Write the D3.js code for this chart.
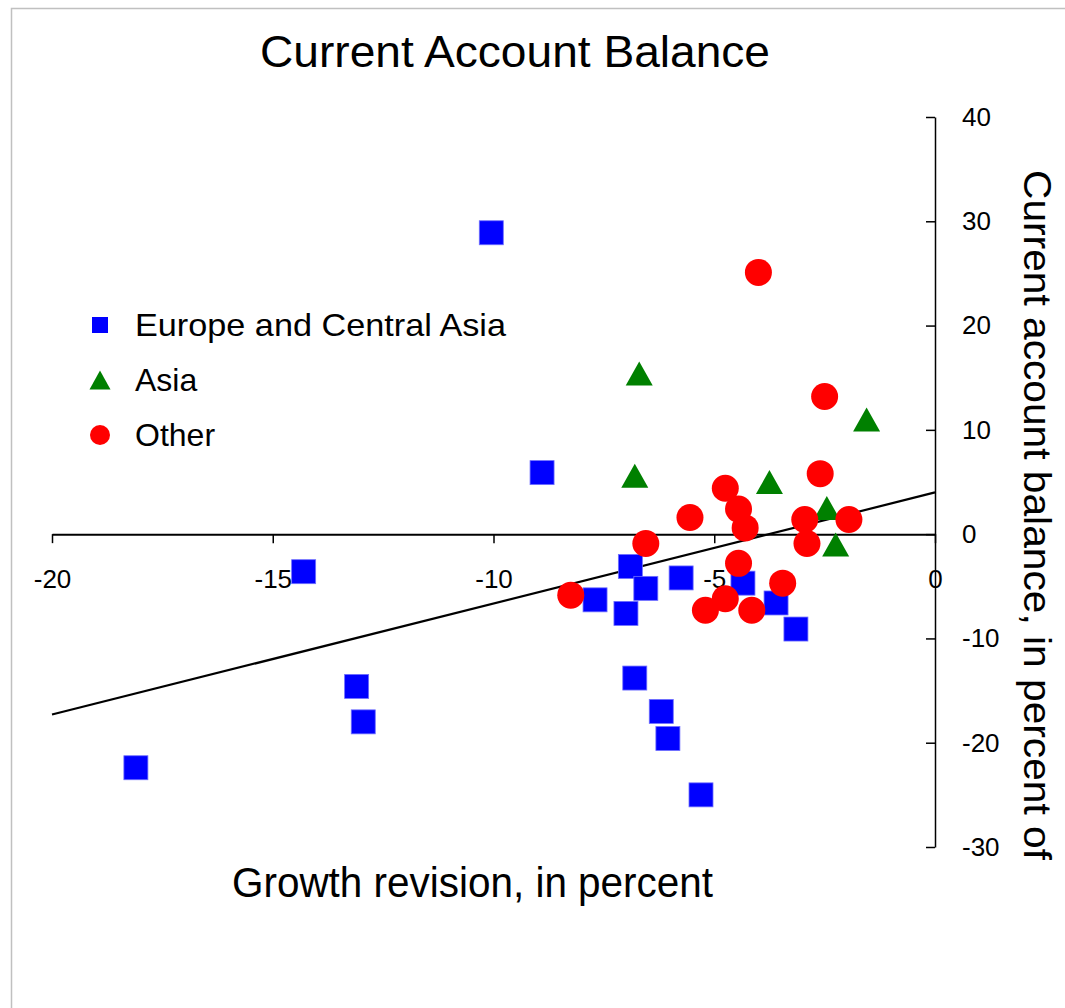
<!DOCTYPE html>
<html>
<head>
<meta charset="utf-8">
<script src="https://cdn.jsdelivr.net/npm/d3@7"></script>
<style>
  html, body { margin: 0; padding: 0; background: #fff; }
  svg { display: block; font-family: "Liberation Sans", Arial, sans-serif; }
</style>
</head>
<body>
<svg id="chart" width="1065" height="1008"></svg>
<script>
// Growth revision (x) vs current account balance (y), by region
const europeX = [-10.05, -8.9, -14.3, -13.1, -12.95, -18.1, -7.7, -6.9, -7.0, -6.55, -6.8, -6.2, -6.05, -5.3, -5.75, -4.35, -3.6, -3.15];
const europeY = [28.9, 5.9, -3.6, -14.6, -18.0, -22.4, -6.3, -3.1, -7.6, -5.2, -13.8, -17.0, -19.6, -25.0, -4.2, -4.7, -6.6, -9.1];

const asiaX = [-6.7, -6.8, -3.75, -2.45, -2.25, -1.55];
const asiaY = [15.4, 5.6, 5.0, 2.5, -1.0, 11.0];

const otherX = [-4.0, -2.5, -2.6, -4.75, -5.55, -4.45, -4.3, -6.55, -2.95, -2.9, -1.95, -4.45, -3.45, -8.25, -5.2, -4.75, -4.15];
const otherY = [25.1, 13.2, 5.8, 4.4, 1.6, 2.4, 0.6, -0.9, 1.4, -0.9, 1.4, -2.8, -4.7, -5.85, -7.3, -6.2, -7.3];

// Fitted trend line end points
const trendX = [-20, 0];
const trendY = [-17.3, 4.0];

const xTicks = [-20, -15, -10, -5, 0];
const yTicks = [40, 30, 20, 10, 0, -10, -20, -30];

const seriesNames = ["Europe and Central Asia", "Asia", "Other"];

const svg = d3.select("#chart");

// outer frame
svg.append("path")
  .attr("d", "M11.5,1008 L11.5,8.5 L1065,8.5")
  .attr("fill", "none")
  .attr("stroke", "#c0c0c0")
  .attr("stroke-width", 1.5);

const x = d3.scaleLinear().domain([-20, 0]).range([52, 935]);
const y = d3.scaleLinear().domain([-30, 40]).range([847, 117]);

// x axis along y = 0
const xAxis = svg.append("g")
  .attr("transform", `translate(0,${y(0)})`)
  .call(d3.axisBottom(x).tickValues(xTicks).tickSizeInner(9).tickSizeOuter(0)
    .tickPadding(26).tickFormat(d => String(d)));
xAxis.select(".domain").attr("stroke", "#000").attr("stroke-width", 2);
xAxis.selectAll(".tick line").attr("stroke", "#000").attr("stroke-width", 1.5);
xAxis.selectAll(".tick text").attr("font-size", 26).attr("fill", "#000")
  .attr("font-family", "Liberation Sans, Arial, sans-serif");

// y axis on the right at x = 0
const yAxis = svg.append("g")
  .attr("transform", `translate(${x(0)},0)`)
  .call(d3.axisRight(y).tickValues(yTicks).tickSizeInner(-9).tickSizeOuter(0)
    .tickPadding(27).tickFormat(d => String(d)));
yAxis.select(".domain").attr("stroke", "#000").attr("stroke-width", 1.5);
yAxis.selectAll(".tick line").attr("stroke", "#000").attr("stroke-width", 1.5);
yAxis.selectAll(".tick text").attr("font-size", 26).attr("fill", "#000")
  .attr("font-family", "Liberation Sans, Arial, sans-serif");

// trend line
svg.append("path")
  .datum(d3.zip(trendX, trendY))
  .attr("d", d3.line().x(d => x(d[0])).y(d => y(d[1])))
  .attr("fill", "none")
  .attr("stroke", "#000")
  .attr("stroke-width", 2.2);

// marker shapes
const sq = 24, tw = 27, th = 24, cr = 13.5;
function triPath(w, h) {
  return `M0,${-h / 2} L${w / 2},${h / 2} L${-w / 2},${h / 2} Z`;
}

svg.append("g").selectAll("rect")
  .data(d3.zip(europeX, europeY))
  .join("rect")
  .attr("x", d => x(d[0]) - sq / 2)
  .attr("y", d => y(d[1]) - sq / 2)
  .attr("width", sq).attr("height", sq)
  .attr("fill", "#0000ff")
  .attr("stroke", "#6f6fff").attr("stroke-width", 0.8);

svg.append("g").selectAll("path")
  .data(d3.zip(asiaX, asiaY))
  .join("path")
  .attr("transform", d => `translate(${x(d[0])},${y(d[1])})`)
  .attr("d", triPath(tw, th))
  .attr("fill", "#008000");

svg.append("g").selectAll("circle")
  .data(d3.zip(otherX, otherY))
  .join("circle")
  .attr("cx", d => x(d[0]))
  .attr("cy", d => y(d[1]))
  .attr("r", cr)
  .attr("fill", "#ff0000");

// legend
const legend = svg.append("g");
const legY = [325, 380, 435];
legend.append("rect").attr("x", 92).attr("y", legY[0] - 8).attr("width", 16).attr("height", 16)
  .attr("fill", "#0000ff");
legend.append("path").attr("transform", `translate(100,${legY[1]})`).attr("d", triPath(21, 19))
  .attr("fill", "#008000");
legend.append("circle").attr("cx", 100).attr("cy", legY[2]).attr("r", 10).attr("fill", "#ff0000");
legend.selectAll("text")
  .data(seriesNames)
  .join("text")
  .attr("x", 135)
  .attr("y", (d, i) => legY[i] + 11)
  .attr("font-size", 32)
  .attr("fill", "#000")
  .text(d => d);
legend.select("text").attr("textLength", 371).attr("lengthAdjust", "spacingAndGlyphs");

// titles
svg.append("text")
  .attr("x", 260).attr("y", 67)
  .attr("font-size", 44)
  .attr("textLength", 510).attr("lengthAdjust", "spacingAndGlyphs")
  .attr("fill", "#000")
  .text("Current  Account  Balance");

svg.append("text")
  .attr("x", 232).attr("y", 897)
  .attr("font-size", 42)
  .attr("textLength", 481).attr("lengthAdjust", "spacingAndGlyphs")
  .attr("fill", "#000")
  .text("Growth revision,  in percent");

svg.append("text")
  .attr("transform", "translate(1024,170) rotate(90)")
  .attr("font-size", 38)
  .attr("textLength", 690).attr("lengthAdjust", "spacingAndGlyphs")
  .attr("fill", "#000")
  .text("Current account balance, in percent of");
</script>
</body>
</html>
